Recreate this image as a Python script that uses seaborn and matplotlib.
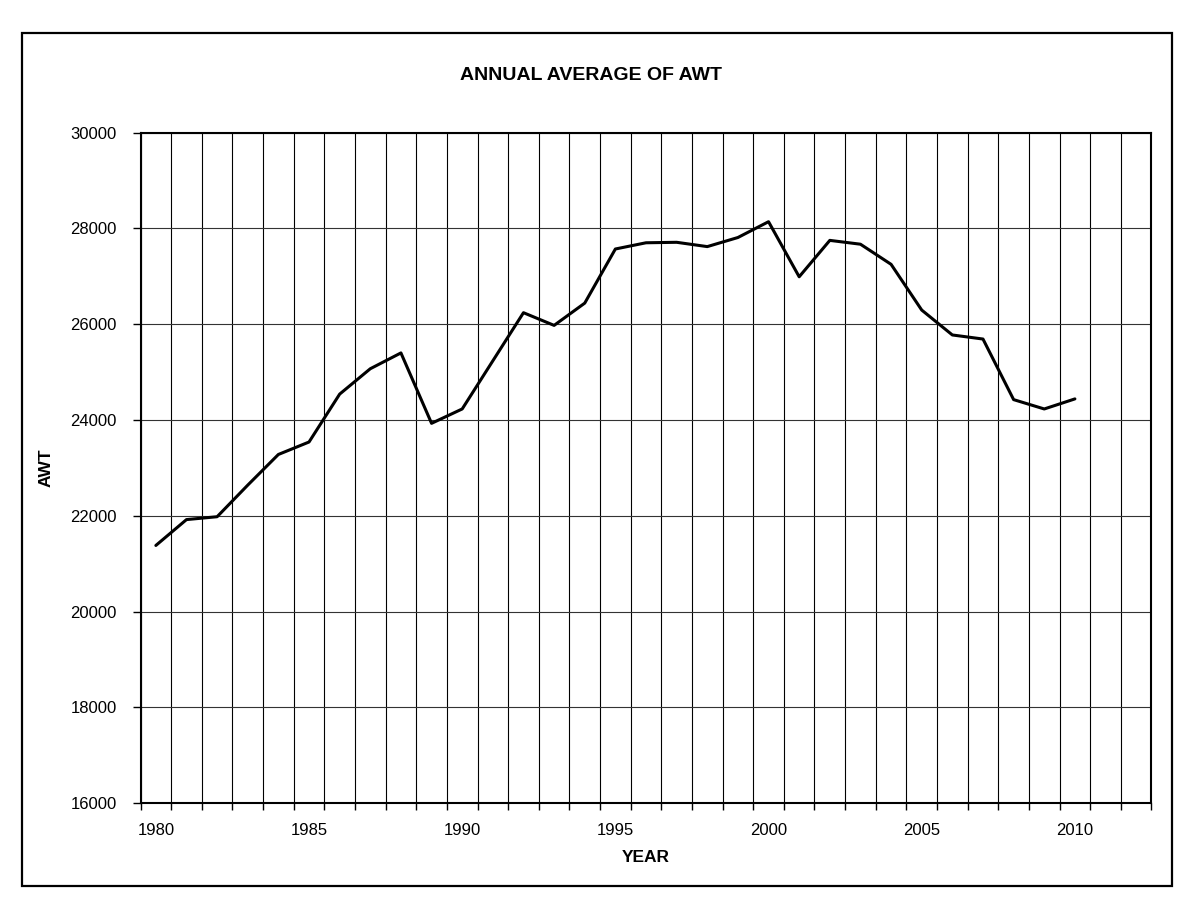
import matplotlib
matplotlib.use("Agg")
import matplotlib.pyplot as plt
from matplotlib.patches import Rectangle
from matplotlib.ticker import FixedLocator, NullFormatter
import seaborn as sns
import pandas as pd

years = list(range(1980, 2011))
awt = [21380, 21920, 21980, 22640, 23280, 23540, 24540, 25070, 25400, 23930,
       24230, 25235, 26240, 25975, 26440, 27570, 27700, 27710, 27620, 27810,
       28140, 26990, 27750, 27670, 27250, 26295, 25775, 25690, 24425, 24230,
       24440]
year_ticks = [1980, 1985, 1990, 1995, 2000, 2005, 2010]
awt_ticks = [16000, 18000, 20000, 22000, 24000, 26000, 28000, 30000]
title = "ANNUAL AVERAGE OF AWT"
xlabel = "YEAR"
ylabel = "AWT"

sns.set_style("white")
plt.rcParams['font.family'] = ['Liberation Sans', 'DejaVu Sans']
plt.rcParams['text.color'] = 'black'
plt.rcParams['axes.labelcolor'] = 'black'
plt.rcParams['xtick.color'] = 'black'
plt.rcParams['ytick.color'] = 'black'

df = pd.DataFrame({"YEAR": years, "AWT": awt})

fig = plt.figure(figsize=(11.81, 9.21), dpi=100)
ax = fig.add_axes([0.119, 0.128, 0.856, 0.728])

# chart-area border
fig.patches.append(Rectangle((0.019, 0.038), 0.973, 0.926, transform=fig.transFigure,
                             fill=False, edgecolor="black", linewidth=1.6, zorder=0))

sns.lineplot(data=df, x="YEAR", y="AWT", ax=ax, color="black", linewidth=2.2, zorder=3)

first, last = 1980, 2012
ax.set_xlim(first - 0.5, last + 0.5)
ax.set_ylim(awt_ticks[0], awt_ticks[-1])

ax.xaxis.set_major_locator(FixedLocator(year_ticks))
ax.set_xticklabels([str(y) for y in year_ticks])
ax.xaxis.set_minor_locator(FixedLocator([first - 0.5 + k for k in range(last - first + 2)]))
ax.xaxis.set_minor_formatter(NullFormatter())
ax.set_yticks(awt_ticks)
ax.set_yticklabels([str(v) for v in awt_ticks])

ax.tick_params(axis="x", which="major", length=0, pad=14, labelsize=12, labelcolor="black")
ax.tick_params(axis="x", which="minor", direction="out", length=5, width=1, color="black", bottom=True)
ax.tick_params(axis="y", which="major", direction="out", length=6, width=1, color="black",
               left=True, pad=11, labelsize=12, labelcolor="black")

ax.grid(False)
ax.grid(True, axis="x", which="minor", color="black", linewidth=0.8)
ax.grid(True, axis="y", which="major", color="#333333", linewidth=0.8)
ax.set_axisbelow(True)

for s in ax.spines.values():
    s.set_visible(True)
    s.set_color("black")
    s.set_linewidth(1.5)

ax.set_xlabel(xlabel, fontsize=12.5, fontweight="bold", labelpad=9, color="black")
ax.set_ylabel(ylabel, fontsize=12.5, fontweight="bold", labelpad=12, color="black")
fig.text(0.5, 0.918, title, ha="center", va="center", fontsize=14, fontweight="bold", color="black")

fig.savefig("out.png", dpi=100)
